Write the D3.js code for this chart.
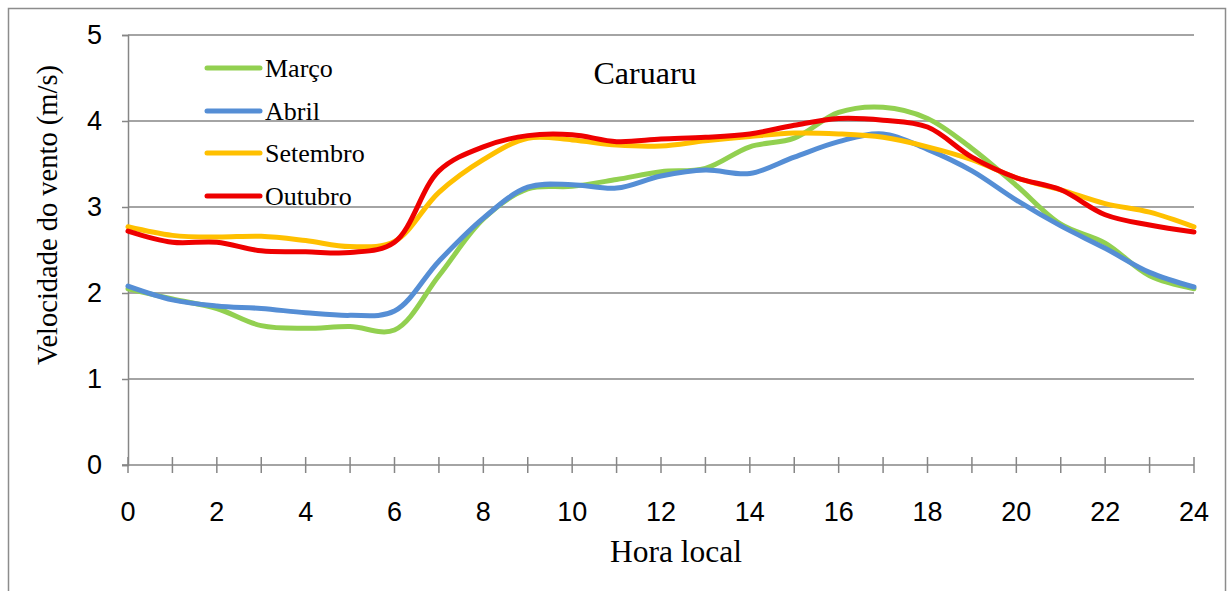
<!DOCTYPE html>
<html>
<head>
<meta charset="utf-8">
<script src="https://cdn.jsdelivr.net/npm/d3@7"></script>
<style>
  html, body { margin: 0; padding: 0; background: #fff; }
  svg { display: block; }
</style>
</head>
<body>
<svg id="chart" width="1229" height="591"></svg>
<script>
const hours = d3.range(0, 25);
const marco    = [2.05,1.93,1.82,1.62,1.59,1.61,1.57,2.20,2.86,3.21,3.24,3.32,3.41,3.45,3.70,3.80,4.10,4.16,4.03,3.68,3.25,2.80,2.58,2.20,2.05];
const abril    = [2.08,1.92,1.85,1.82,1.77,1.74,1.79,2.37,2.87,3.23,3.26,3.22,3.36,3.43,3.39,3.58,3.76,3.85,3.67,3.42,3.08,2.78,2.52,2.24,2.07];
const setembro = [2.77,2.67,2.65,2.66,2.61,2.54,2.60,3.17,3.55,3.80,3.78,3.72,3.71,3.77,3.82,3.86,3.85,3.81,3.70,3.55,3.34,3.20,3.04,2.94,2.77];
const outubro  = [2.72,2.59,2.59,2.49,2.48,2.47,2.59,3.42,3.70,3.83,3.84,3.76,3.79,3.81,3.85,3.95,4.03,4.01,3.93,3.58,3.34,3.20,2.91,2.79,2.71];
const seriesNames = ["Março","Abril","Setembro","Outubro"];
const seriesColors = ["#92D050","#558ED5","#FFC000","#EE0000"];
const seriesValues = [marco, abril, setembro, outubro];
const xTickLabels = d3.range(0, 25, 2);
const yTickLabels = [0,1,2,3,4,5];

const svg = d3.select("#chart");
const x = d3.scaleLinear().domain([0,24]).range([128,1194]);
const y = d3.scaleLinear().domain([0,5]).range([465,35]);
const axisColor = "#868686";

// outer border
svg.append("rect").attr("x",8.5).attr("y",8.5).attr("width",1217).attr("height",600)
  .attr("fill","none").attr("stroke","#8c8c8c").attr("stroke-width",1.5);

// gridlines
svg.append("g").selectAll("line").data(yTickLabels.filter(d=>d>0)).join("line")
  .attr("x1",x(0)).attr("x2",x(24)).attr("y1",d=>y(d)).attr("y2",d=>y(d))
  .attr("stroke",axisColor).attr("stroke-width",1.5);

// y axis
const yAxis = d3.axisLeft(y).tickValues(yTickLabels).tickSize(6).tickPadding(20).tickFormat(d3.format("d"));
const gy = svg.append("g").attr("transform",`translate(${x(0)},0)`).call(yAxis);
gy.select(".domain").attr("stroke",axisColor).attr("stroke-width",1.5);
gy.selectAll(".tick line").attr("stroke",axisColor).attr("stroke-width",1.5);
gy.selectAll(".tick text").attr("font-family","'Liberation Sans', Arial, sans-serif").attr("font-size",27).attr("fill","#000");

// x axis: ticks crossing the axis line
const gx = svg.append("g").attr("transform",`translate(0,${y(0)})`);
gx.append("line").attr("x1",x(0)-6).attr("x2",x(24)).attr("y1",0).attr("y2",0)
  .attr("stroke",axisColor).attr("stroke-width",1.5);
gx.selectAll("line.tk").data(hours).join("line").attr("class","tk")
  .attr("x1",d=>x(d)).attr("x2",d=>x(d)).attr("y1",-8).attr("y2",8)
  .attr("stroke",axisColor).attr("stroke-width",1.5);
gx.selectAll("text").data(xTickLabels).join("text")
  .attr("x",d=>x(d)).attr("y",56).attr("text-anchor","middle")
  .attr("font-family","'Liberation Sans', Arial, sans-serif").attr("font-size",27).attr("fill","#000")
  .text(d=>d);

// lines
const line = d3.line().x((d,i)=>x(hours[i])).y(d=>y(d)).curve(d3.curveCatmullRom.alpha(0.5));
seriesValues.forEach((vals,k)=>{
  svg.append("path").datum(vals).attr("d",line).attr("fill","none")
    .attr("stroke",seriesColors[k]).attr("stroke-width",5).attr("stroke-linejoin","round").attr("stroke-linecap","round");
});

// legend
const legY = [68,111,153,196];
seriesNames.forEach((name,k)=>{
  svg.append("line").attr("x1",207).attr("x2",260).attr("y1",legY[k]).attr("y2",legY[k])
    .attr("stroke",seriesColors[k]).attr("stroke-width",5).attr("stroke-linecap","round");
  svg.append("text").attr("x",265).attr("y",legY[k]+9)
    .attr("font-family","'Liberation Serif','Times New Roman',serif").attr("font-size",26).attr("fill","#000")
    .text(name);
});

// title
svg.append("text").attr("x",645).attr("y",84).attr("text-anchor","middle")
  .attr("font-family","'Liberation Serif','Times New Roman',serif").attr("font-size",32).attr("fill","#000")
  .text("Caruaru");

// axis titles
svg.append("text").attr("x",676).attr("y",562).attr("text-anchor","middle")
  .attr("font-family","'Liberation Serif','Times New Roman',serif").attr("font-size",31.5).attr("fill","#000")
  .text("Hora local");
svg.append("text").attr("transform","translate(57,215) rotate(-90)").attr("text-anchor","middle")
  .attr("font-family","'Liberation Serif','Times New Roman',serif").attr("font-size",28.5).attr("fill","#000")
  .text("Velocidade do vento (m/s)");
</script>
</body>
</html>
